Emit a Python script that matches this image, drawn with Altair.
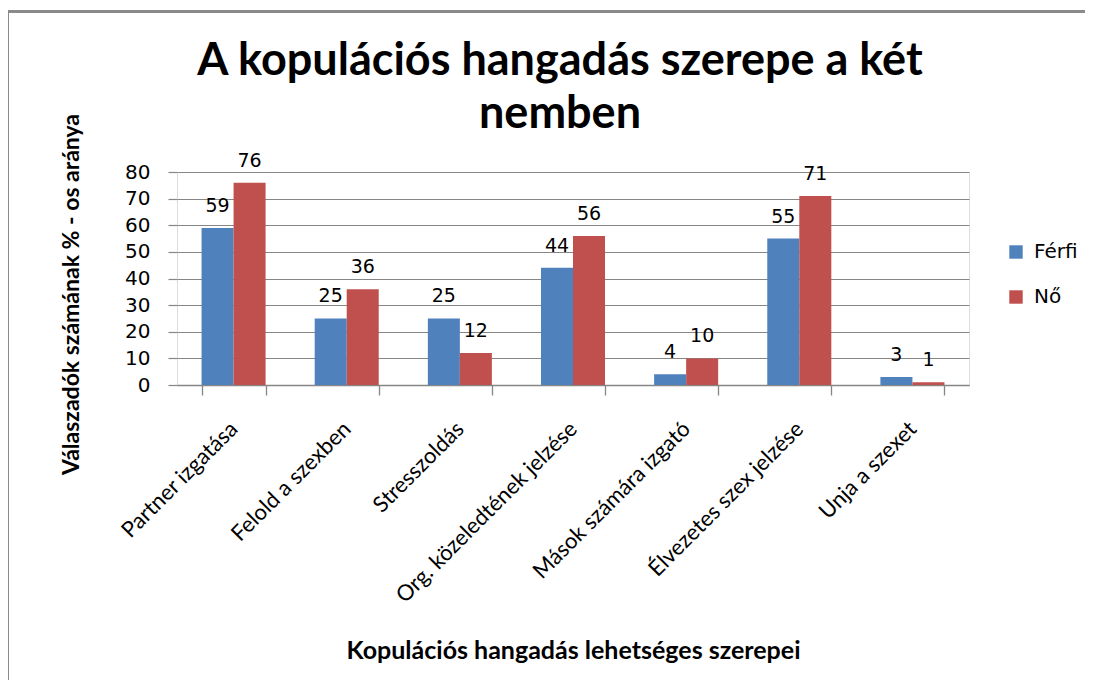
import altair as alt
import pandas as pd

categories = ["Partner izgatása", "Felold a szexben", "Stresszoldás",
              "Org. közeledtének jelzése", "Mások számára izgató",
              "Élvezetes szex jelzése", "Unja a szexet"]
series = ["Férfi", "Nő"]
ferfi = [59, 25, 25, 44, 4, 55, 3]
no = [76, 36, 12, 56, 10, 71, 1]
colors = ["#4F81BD", "#C0504D"]
y_ticks = [0, 10, 20, 30, 40, 50, 60, 70, 80]

rows = []
for c, f, n in zip(categories, ferfi, no):
    rows.append({"cat": c, "series": "Férfi", "value": f})
    rows.append({"cat": c, "series": "Nő", "value": n})
df = pd.DataFrame(rows)

FONT = "Lato"
NUMFONT = "DejaVu Sans"
GRAY = "#868686"

base = alt.Chart(df).encode(
    x=alt.X("cat:N", sort=categories,
            scale=alt.Scale(paddingInner=0.434, paddingOuter=0.217),
            axis=alt.Axis(title="Kopulációs hangadás  lehetséges szerepei",
                          labelAngle=-45, labelAlign="right", labelBaseline="middle",
                          labelFontSize=22, labelFont=FONT, labelColor="#000000",
                          labelPadding=30, labelLimit=400, tickBand="extent",
                          tickSize=10, tickColor=GRAY, domainColor=GRAY,
                          domainWidth=1.3, tickWidth=1.3,
                          grid=False, titleFont=FONT, titleFontSize=25,
                          titleFontWeight="bold", titleColor="#000000",
                          titleY=265, titleBaseline="middle")),
    xOffset=alt.XOffset("series:N", sort=series,
                        scale=alt.Scale(paddingInner=0, paddingOuter=0)),
    y=alt.Y("value:Q", scale=alt.Scale(domain=[0, 80], nice=False),
            axis=alt.Axis(title="Válaszadók számának % - os aránya",
                          values=y_ticks, domain=False, tickSize=9,
                          tickColor=GRAY, tickWidth=1.2, gridColor=GRAY,
                          gridWidth=1.2, labelOverlap=False,
                          labelFontSize=20, labelFont=NUMFONT, labelColor="#000000",
                          labelPadding=18, titleFont=FONT, titleFontSize=23,
                          titleFontWeight="bold", titleColor="#000000",
                          titleX=-106, titleY=122, titleAngle=-90,
                          titleAlign="center", titleBaseline="middle")),
)

bars = base.mark_bar().encode(
    color=alt.Color("series:N", sort=series,
                    scale=alt.Scale(domain=series, range=colors),
                    legend=alt.Legend(title=None, orient="none", legendX=829,
                                      legendY=70, symbolType="square",
                                      symbolSize=180, symbolStrokeWidth=0,
                                      labelFont=NUMFONT, labelFontSize=20,
                                      labelColor="#000000", rowPadding=25,
                                      labelOffset=8)),
)

labels = base.mark_text(baseline="bottom", dy=-12, fontSize=19, font=NUMFONT,
                        color="#000000").encode(
    text=alt.Text("value:Q"),
)

one = pd.DataFrame({"a": [0]})
border_top = alt.Chart(one).mark_rule(color="#8a8a8a", strokeWidth=3).encode(
    x=alt.value(-171), x2=alt.value(916), y=alt.value(-160.5))
border_left = alt.Chart(one).mark_rule(color="#8a8a8a", strokeWidth=3).encode(
    x=alt.value(-169.5), y=alt.value(-162), y2=alt.value(520))

chart = alt.layer(bars, labels, border_top, border_left).properties(
    width=792, height=213,
    autosize=alt.AutoSizeParams(type="none"),
    padding={"left": 169, "top": 164, "right": 116, "bottom": 295},
    title=alt.TitleParams(text=["A kopulációs hangadás szerepe a két", "nemben"],
                          font=FONT, fontSize=45, fontWeight="bold",
                          color="#000000", anchor="middle", frame="group",
                          lineHeight=53, offset=0, dy=128, dx=-13),
).configure_view(stroke=None).configure(background="#ffffff")

chart.save("out.html", embed_options={"renderer": "svg", "actions": False})
